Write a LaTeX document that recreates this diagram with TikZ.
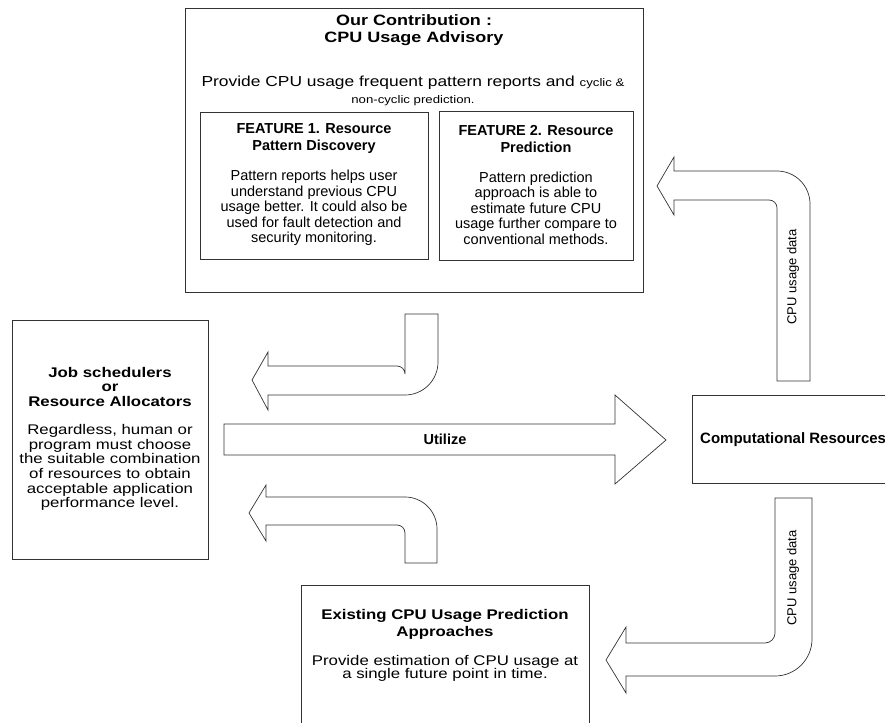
\documentclass[tikz,border=0pt]{standalone}
\usepackage{fontspec}
\setmainfont{Liberation Sans}
\newfontfamily\widefont{Liberation Sans}[FakeStretch=1.2]
\usetikzlibrary{positioning}

\begin{document}
\begin{tikzpicture}[x=1pt, y=1pt,
    box/.style={draw=black!80, line width=0.8pt, rectangle, anchor=north west, inner sep=0pt},
    fatarrow/.style={draw=black!80, line width=0.7pt, fill=white},
    txt/.style={align=center, inner sep=0pt}]
    \useasboundingbox (0,0) rectangle (885,-722);

    \node (contribution) [box, minimum width=458pt, minimum height=284pt] at (185,-8) {};
    \node (feature1) [box, minimum width=228pt, minimum height=147pt] at (200,-112) {};
    \node (feature2) [box, minimum width=194pt, minimum height=149pt] at (439,-111) {};
    \node (scheduler) [box, minimum width=196pt, minimum height=239pt] at (12,-320) {};
    \node (resources) [box, minimum width=215pt, minimum height=88pt] at (692,-395) {};
    \node (existing) [box, minimum width=288pt, minimum height=150pt] at (301,-585) {};

    \node (contribution_title) [txt, font=\widefont\bfseries\fontsize{15}{17}\selectfont] at (414,-30.5) {Our Contribution :\\CPU Usage Advisory};
    \node (contribution_text) [txt, font=\widefont\fontsize{14.5}{17}\selectfont] at (413,-91) {Provide CPU usage frequent pattern reports and {\fontsize{11}{13}\selectfont cyclic \&}\\{\fontsize{11}{13}\selectfont non-cyclic prediction.}};
    \node (feature1_title) [txt, font=\bfseries\fontsize{14.5}{17}\selectfont] at (314,-139) {FEATURE 1. Resource\\Pattern Discovery};
    \node (feature1_text) [txt, font=\fontsize{14.5}{15.5}\selectfont] at (314,-208) {Pattern reports helps user\\understand previous CPU\\usage better. It could also be\\used for fault detection and\\security monitoring.};
    \node (feature2_title) [txt, font=\bfseries\fontsize{14.5}{17}\selectfont] at (536,-139) {FEATURE 2. Resource\\Prediction};
    \node (feature2_text) [txt, font=\fontsize{14.5}{15.5}\selectfont] at (536,-208) {Pattern prediction\\approach is able to\\estimate future CPU\\usage further compare to\\conventional methods.};
    \node (scheduler_title) [txt, font=\widefont\bfseries\fontsize{14}{14.5}\selectfont] at (110,-386.5) {Job schedulers\\or\\Resource Allocators};
    \node (scheduler_text) [txt, font=\widefont\fontsize{14}{14.6}\selectfont] at (110,-467.5) {Regardless, human or\\program must choose\\the suitable combination\\of resources to obtain\\acceptable application\\performance level.};
    \node (resources_title) [txt, anchor=west, font=\bfseries\fontsize{15}{17}\selectfont] at (700,-440) {Computational Resources};
    \node (existing_title) [txt, font=\widefont\bfseries\fontsize{14}{17}\selectfont] at (445,-624.5) {Existing CPU Usage Prediction\\Approaches};
    \node (existing_text) [txt, font=\widefont\fontsize{14}{13.5}\selectfont] at (445,-668.5) {Provide estimation of CPU usage at\\a single future point in time.};

    \draw[fatarrow] (224,-424) -- (615,-424) -- (615,-395) -- (666,-440) -- (615,-484) -- (615,-455) -- (224,-455) -- cycle;
    \node (utilize) [txt, font=\bfseries\fontsize{14.5}{17}\selectfont] at (445,-439.5) {Utilize};

    \draw[fatarrow] (405,-314) -- (438,-314) -- (438,-362) arc (0:-90:33) -- (268,-395) -- (268,-410) -- (252,-380) -- (268,-352) -- (268,-366) -- (397,-366) arc (90:0:8) -- cycle;
    \draw[fatarrow] (405,-563) -- (437,-563) -- (437,-529) arc (0:90:32) -- (266,-497) -- (266,-485) -- (249,-513) -- (266,-541) -- (266,-525) -- (397,-525) arc (90:0:8) -- cycle;
    \draw[fatarrow] (777,-381) -- (810,-381) -- (810,-204) arc (0:90:33) -- (674,-171) -- (674,-157) -- (657,-186) -- (674,-215) -- (674,-200) -- (769,-200) arc (90:0:8) -- cycle;
    \draw[fatarrow] (775,-498) -- (812,-498) -- (812,-639) arc (0:-90:37) -- (626,-676) -- (626,-693) -- (606,-660) -- (626,-627) -- (626,-643) -- (765,-643) arc (-90:0:10) -- cycle;

    \node (usage_up) [txt, rotate=90, font=\fontsize{13}{15}\selectfont] at (793,-277) {CPU usage data};
    \node (usage_down) [txt, rotate=90, font=\fontsize{13}{15}\selectfont] at (793,-578) {CPU usage data};
\end{tikzpicture}
\end{document}
